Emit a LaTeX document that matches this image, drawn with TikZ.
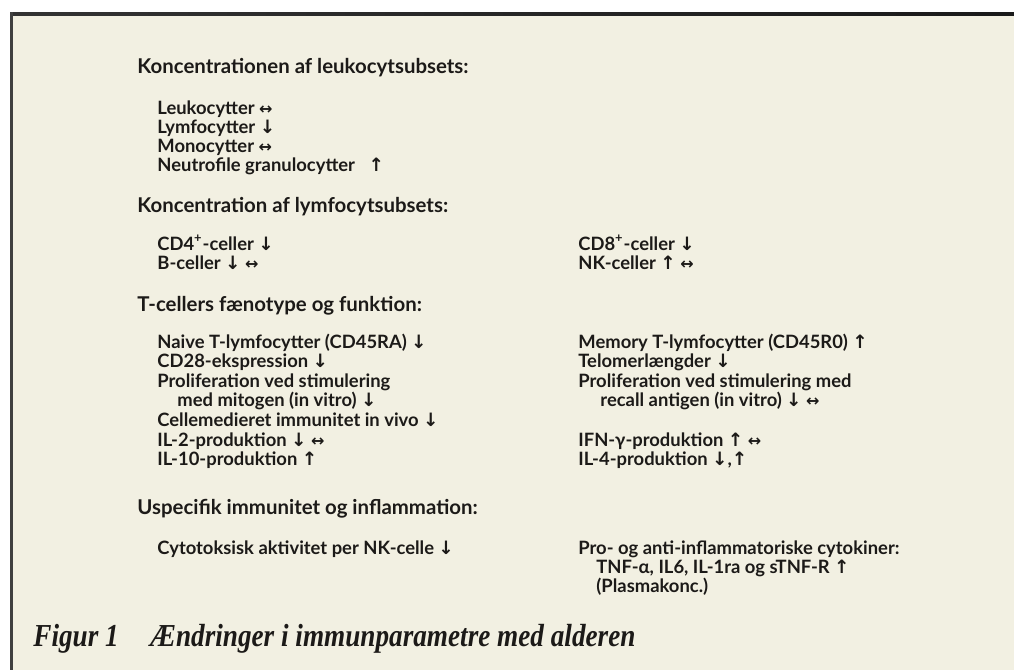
\documentclass[tikz,border=0pt]{standalone}
\usepackage{fontspec}
\setmainfont{Lato}
\newfontfamily\capfont[FakeStretch=0.85]{Liberation Serif}
\newfontfamily\arrowfont{DejaVu Sans}
\definecolor{paper}{RGB}{242,240,226}
\definecolor{ink}{RGB}{28,26,24}
\newcommand\arrup{{\arrowfont ↑}}
\newcommand\arrdown{{\arrowfont ↓}}
\newcommand\arrboth{{\arrowfont\footnotesize ↔}}
\tikzset{
  head/.style={font=\bfseries\fontsize{10.2}{12}\selectfont, anchor=base west, inner sep=0pt, text=ink},
  item/.style={font=\bfseries\fontsize{9.2}{11}\selectfont, anchor=base west, inner sep=0pt, text=ink},
  figcap/.style={font=\capfont\bfseries\itshape\fontsize{16}{18}\selectfont, anchor=base west, inner sep=0pt, text=ink},
}
\begin{document}
\begin{tikzpicture}[x=0.5pt, y=-0.5pt]
\useasboundingbox (0,0) rectangle (1014,670);
% page and frame
\fill[white] (0,0) rectangle (1014,670);
\fill[paper] (10,12) rectangle (1014,670);
\shade[left color=black!80, middle color=black!50, right color=black!90] (10,12) rectangle (1014,15);
\fill[black!75] (10,12) rectangle (13,670);

% headings
\node[head] (h1) at (137,73) {Koncentrationen af leukocytsubsets:};
\node[head] (h2) at (137,212) {Koncentration af lymfocytsubsets:};
\node[head] (h3) at (137,311) {T-cellers fænotype og funktion:};
\node[head] (h4) at (137,514) {Uspecifik immunitet og inflammation:};

% left column
\foreach \yy/\txt [count=\i] in {114/{Leukocytter \arrboth}, 133/{Lymfocytter \arrdown},
    152/{Monocytter \arrboth}, 171/{Neutrofile granulocytter \enspace\arrup}}
  \node[item] (leuk\i) at (157,\yy) {\txt};
\node[item] (cdfour) at (157,250) {CD4\textsuperscript{+}-celler \arrdown};
\node[item] (bcell) at (157,269) {B-celler \arrdown\ \arrboth};
\foreach \yy/\xx/\txt [count=\i] in {348/157/{Naive T-lymfocytter (CD45RA) \arrdown},
    367.6/157/{CD28-ekspression \arrdown}, 387.2/157/{Proliferation ved stimulering},
    406.8/177/{med mitogen (in vitro) \arrdown}, 426.4/157/{Cellemedieret immunitet in vivo \arrdown},
    446/157/{IL-2-produktion \arrdown\ \arrboth}, 465.6/157/{IL-10-produktion \arrup}}
  \node[item] (tleft\i) at (\xx,\yy) {\txt};
\node[item] (nkakt) at (157,554) {Cytotoksisk aktivitet per NK-celle \arrdown};

% right column
\node[item] (cdeight) at (578,250) {CD8\textsuperscript{+}-celler \arrdown};
\node[item] (nkcell) at (578,269) {NK-celler \arrup\ \arrboth};
\foreach \yy/\xx/\txt [count=\i] in {348/578/{Memory T-lymfocytter (CD45R0) \arrup},
    367.6/578/{Telomerlængder \arrdown}, 387.2/578/{Proliferation ved stimulering med},
    406.8/600/{recall antigen (in vitro) \arrdown\ \arrboth}, 446/578/{IFN-γ-produktion \arrup\ \arrboth},
    465.6/578/{IL-4-produktion \arrdown,\arrup}}
  \node[item] (tright\i) at (\xx,\yy) {\txt};
\foreach \yy/\xx/\txt [count=\i] in {554/578/{Pro- og anti-inflammatoriske cytokiner:},
    573/596/{TNF-α, IL6, IL-1ra og sTNF-R \arrup}, 592/596/{(Plasmakonc.)}}
  \node[item] (cyto\i) at (\xx,\yy) {\txt};

% caption
\node[figcap] (fig) at (33,646) {Figur 1};
\node[figcap] (figtxt) at (150,646) {Ændringer i immunparametre med alderen};
\end{tikzpicture}
\end{document}
